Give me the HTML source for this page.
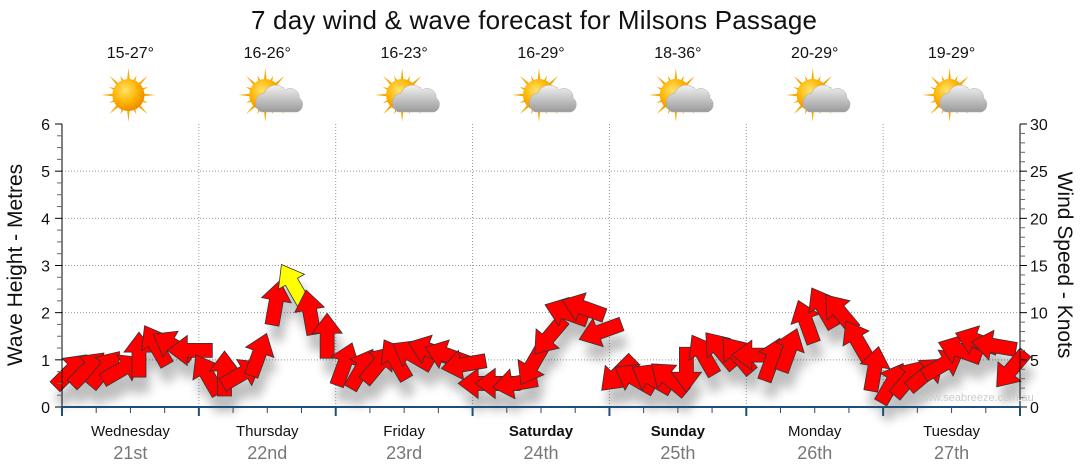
<!DOCTYPE html>
<html><head><meta charset="utf-8"><style>
body{margin:0;background:#fff;}
svg{display:block;font-family:"Liberation Sans",sans-serif;}
</style></head><body>
<svg id="c" width="1080" height="475" xmlns="http://www.w3.org/2000/svg">
<defs>
<filter id="sh" x="-50%" y="-50%" width="200%" height="200%"><feGaussianBlur stdDeviation="5"/></filter>
<radialGradient id="sun" cx="40%" cy="35%" r="65%"><stop offset="0" stop-color="#ffe36a"/><stop offset="0.6" stop-color="#ffb300"/><stop offset="1" stop-color="#f08a00"/></radialGradient>
<linearGradient id="cloud" x1="0" y1="0" x2="0" y2="1"><stop offset="0" stop-color="#f2f2f2"/><stop offset="1" stop-color="#9a9a9a"/></linearGradient>
</defs>
<text x="534" y="29" font-size="26" text-anchor="middle" fill="#111" textLength="566">7 day wind &amp; wave forecast for Milsons Passage</text>
<g id="grid"></g>
<g id="icons"></g>
<g id="shadows" filter="url(#sh)" opacity="0.25"></g>
<g id="arrows"></g>
<g id="axes"></g>
<text x="917" y="401" font-size="11" fill="#ccc">www.seabreeze.com.au</text>
<text transform="translate(22,265) rotate(-90)" font-size="21" text-anchor="middle" fill="#111">Wave Height - Metres</text>
<text transform="translate(1058,265) rotate(90)" font-size="21" text-anchor="middle" fill="#111">Wind Speed - Knots</text>
</svg>
<script>
const days=["Wednesday","Thursday","Friday","Saturday","Sunday","Monday","Tuesday"];
const dates=["21st","22nd","23rd","24th","25th","26th","27th"];
const temps=["15-27°","16-26°","16-23°","16-29°","18-36°","20-29°","19-29°"];
const cloudy=[false,true,true,true,true,true,true];
const waveTicks=[0,1,2,3,4,5,6];
const windTicks=[0,5,10,15,20,25,30];
const windSpeed=[3.8,4,4,4,5.5,6.5,6.5,6,
 3.4,3.5,3.5,5.5,11,13,10,7.5,
 4.5,4,4.5,5,5.5,6,5.5,4.5,
 2.5,2.5,2.5,4.5,7.5,10,10.5,8,
 3.5,3,3,3,4,5.5,6,5.5,
 5.5,5,6,9,10.5,10,7,4,
 2.5,3,3.5,4.5,6,7,6.5,4];
const windDir=[45,45,40,60,0,330,300,270,
 330,0,60,20,10,330,350,0,
 20,30,40,330,300,290,290,260,
 270,270,260,210,220,290,290,250,
 225,300,300,310,180,330,320,320,
 270,20,20,340,330,320,330,10,
 30,40,50,60,290,290,280,220];
const X0=62,X1=1020,Y0=407,Y1=124;
const dayW=(X1-X0)/7;
const yW=v=>Y0-(v/6)*(Y0-Y1);
const yK=v=>Y0-(v/30)*(Y0-Y1);
const xT=i=>X0+(i+0.5)*dayW/8;
const NS="http://www.w3.org/2000/svg";
function mk(p,t,a){const e=document.createElementNS(NS,t);for(const k in a)e.setAttribute(k,a[k]);document.getElementById(p).appendChild(e);return e;}
for(let i=1;i<7;i++){const g=mk('grid','line',{x1:X0+i*dayW,x2:X0+i*dayW,y1:Y1,y2:Y0,stroke:'#999','stroke-dasharray':'1,2'});

}
waveTicks.forEach(v=>{if(v>0&&v<6){const g=mk('grid','line',{x1:X0,x2:X1,y1:yW(v),y2:yW(v),stroke:'#999','stroke-dasharray':'1,2'});

}});
mk('axes','line',{x1:X0,x2:X0,y1:Y1,y2:Y0,stroke:'#000'});
mk('axes','line',{x1:X1,x2:X1,y1:Y1,y2:Y0,stroke:'#000'});
mk('axes','line',{x1:X0,x2:X1,y1:Y0,y2:Y0,stroke:'#1f4e79','stroke-width':2});
for(let m=0;m<=24;m++){const y=yW(m/4);mk('axes','line',{x1:m%4?X0-5:X0-7,x2:X0,y1:y,y2:y,stroke:m%4?'#666':'#000'});}
for(let m=0;m<=30;m++){const y=yK(m);mk('axes','line',{x1:X1,x2:X1+(m%5?5:7),y1:y,y2:y,stroke:m%5?'#666':'#000'});}
waveTicks.forEach(v=>{const t=mk('axes','text',{x:X0-12,y:yW(v)+6,'font-size':16,'text-anchor':'end',fill:'#111'});t.textContent=v;

});
windTicks.forEach(v=>{const t=mk('axes','text',{x:X1+10,y:yK(v)+6,'font-size':16,fill:'#111'});t.textContent=v;

});
for(let i=0;i<=28;i++){const x=X0+i*dayW/4;mk('axes','line',{x1:x,x2:x,y1:Y0,y2:Y0+(i%4?6:9),stroke:'#1f4e79','stroke-width':i%4?1:2});}
days.forEach((d,i)=>{const cx=X0+(i+0.5)*dayW;const w=(d==="Saturday"||d==="Sunday");
const t=mk('axes','text',{x:cx,y:436,'font-size':15,'text-anchor':'middle',fill:'#111','font-weight':w?'bold':'normal'});t.textContent=d;


const t2=mk('axes','text',{x:cx,y:459,'font-size':18,'text-anchor':'middle',fill:'#777'});t2.textContent=dates[i];


const t3=mk('icons','text',{x:cx,y:58,'font-size':16,'text-anchor':'middle',fill:'#111'});t3.textContent=temps[i];


const g=mk('icons','g',{transform:`translate(${cx-2},95)`});


let rays='';for(let k=0;k<16;k++){const a=k*Math.PI/8,l=k%2?21:27;rays+=`M${Math.cos(a-0.12)*13},${Math.sin(a-0.12)*13}L${Math.cos(a)*l},${Math.sin(a)*l}L${Math.cos(a+0.12)*13},${Math.sin(a+0.12)*13}Z`;}
const gg=document.createElementNS(NS,'path');gg.setAttribute('d',rays);gg.setAttribute('fill','#f5a800');g.appendChild(gg);
const c=document.createElementNS(NS,'circle');c.setAttribute('r',16);c.setAttribute('fill','url(#sun)');g.appendChild(c);
if(cloudy[i]){const cl=document.createElementNS(NS,'path');cl.setAttribute('d','M-4,17 a10,10 0 0 1 3,-19 a12,12 0 0 1 21,-3 a9,9 0 0 1 14,8 a8,8 0 0 1 -2,14 Z');cl.setAttribute('fill','url(#cloud)');cl.setAttribute('stroke','#aaa');cl.setAttribute('stroke-width','0.5');g.appendChild(cl);}
});
const AR='M0,-23 L15,-3 L7,-3 L7,22 L-7,22 L-7,-3 L-15,-3 Z';
windSpeed.forEach((s,i)=>{const x=xT(i),y=yK(s);
mk('shadows','path',{d:AR,fill:'#000',transform:`translate(${x+4},${y+16}) rotate(${windDir[i]})`});
const a=mk('arrows','path',{d:AR,fill:s>12?'#ffff00':'#ff0000',stroke:'#333','stroke-width':0.8,transform:`translate(${x},${y}) rotate(${windDir[i]})`});

});
</script>
</body></html>
